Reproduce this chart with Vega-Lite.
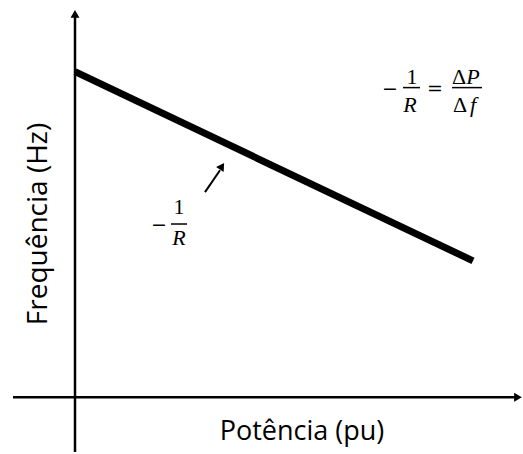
{
  "$schema": "https://vega.github.io/schema/vega-lite/v6.json",
  "width": 523,
  "height": 454,
  "padding": 0,
  "autosize": {"type": "fit", "contains": "padding"},
  "background": "white",
  "config": {"view": {"stroke": null}},
  "datasets": {
    "axes": [
      {"name": "h", "x": -62, "y": 0, "x2": 440, "y2": 0},
      {"name": "v", "x": 0, "y": -55, "x2": 0, "y2": 382}
    ],
    "heads": [
      {"name": "top", "x": 0, "y": 385, "dir": 0},
      {"name": "right", "x": 443, "y": 0, "dir": 90},
      {"name": "small", "x": 147, "y": 232, "dir": 33}
    ],
    "droop": [
      {"p": 0, "f": 327},
      {"p": 398, "f": 137}
    ],
    "pointer": [
      {"x": 130, "y": 206, "x2": 145, "y2": 228}
    ],
    "bars": [
      {"x": 328, "x2": 345, "y": 311},
      {"x": 377, "x2": 407, "y": 311},
      {"x": 96, "x2": 112, "y": 174}
    ],
    "upright": [
      {"t": "1", "x": 337, "y": 322},
      {"t": "Δ", "x": 384, "y": 322},
      {"t": "Δ", "x": 385, "y": 294},
      {"t": "1", "x": 104, "y": 191}
    ],
    "signs": [
      {"t": "−", "x": 315, "y": 311},
      {"t": "=", "x": 360, "y": 311},
      {"t": "−", "x": 84, "y": 174}
    ],
    "italic": [
      {"t": "R", "x": 335, "y": 294},
      {"t": "P", "x": 398, "y": 322},
      {"t": "f", "x": 398, "y": 294},
      {"t": "R", "x": 104, "y": 160}
    ],
    "titles": [
      {"t": "Potência (pu)", "x": 227, "y": -35, "a": 0, "s": 27},
      {"t": "Frequência (Hz)", "x": -36, "y": 174, "a": 270, "s": 28}
    ]
  },
  "layer": [
    {
      "data": {"name": "axes"},
      "mark": {"type": "rule", "color": "black", "strokeWidth": 2.5},
      "encoding": {
        "x": {"field": "x", "type": "quantitative", "scale": {"domain": [-75, 448], "nice": false, "zero": false}, "axis": null},
        "y": {"field": "y", "type": "quantitative", "scale": {"domain": [-55, 399], "nice": false, "zero": false}, "axis": null},
        "x2": {"field": "x2"},
        "y2": {"field": "y2"}
      }
    },
    {
      "data": {"name": "heads"},
      "mark": {"type": "point", "shape": "triangle-up", "filled": true, "color": "black", "size": 80, "opacity": 1},
      "encoding": {
        "x": {"field": "x", "type": "quantitative"},
        "y": {"field": "y", "type": "quantitative"},
        "angle": {"field": "dir", "type": "quantitative", "scale": null}
      }
    },
    {
      "data": {"name": "droop"},
      "mark": {"type": "line", "color": "black", "strokeWidth": 7, "strokeCap": "butt"},
      "encoding": {
        "x": {"field": "p", "type": "quantitative"},
        "y": {"field": "f", "type": "quantitative"}
      }
    },
    {
      "data": {"name": "pointer"},
      "mark": {"type": "rule", "color": "black", "strokeWidth": 2},
      "encoding": {
        "x": {"field": "x", "type": "quantitative"},
        "y": {"field": "y", "type": "quantitative"},
        "x2": {"field": "x2"},
        "y2": {"field": "y2"}
      }
    },
    {
      "data": {"name": "bars"},
      "mark": {"type": "rule", "color": "black", "strokeWidth": 1.5},
      "encoding": {
        "x": {"field": "x", "type": "quantitative"},
        "x2": {"field": "x2"},
        "y": {"field": "y", "type": "quantitative"}
      }
    },
    {
      "data": {"name": "upright"},
      "mark": {"type": "text", "font": "Liberation Serif", "fontSize": 22, "color": "black", "baseline": "middle", "align": "center"},
      "encoding": {
        "x": {"field": "x", "type": "quantitative"},
        "y": {"field": "y", "type": "quantitative"},
        "text": {"field": "t"}
      }
    },
    {
      "data": {"name": "signs"},
      "mark": {"type": "text", "font": "DejaVu Serif", "fontSize": 19, "color": "black", "baseline": "middle", "align": "center", "dy": 1},
      "encoding": {
        "x": {"field": "x", "type": "quantitative"},
        "y": {"field": "y", "type": "quantitative"},
        "text": {"field": "t"}
      }
    },
    {
      "data": {"name": "italic"},
      "mark": {"type": "text", "font": "Liberation Serif", "fontStyle": "italic", "fontSize": 22, "color": "black", "baseline": "middle", "align": "center"},
      "encoding": {
        "x": {"field": "x", "type": "quantitative"},
        "y": {"field": "y", "type": "quantitative"},
        "text": {"field": "t"}
      }
    },
    {
      "data": {"name": "titles"},
      "mark": {"type": "text", "font": "Open Sans", "color": "black", "baseline": "middle", "align": "center"},
      "encoding": {
        "x": {"field": "x", "type": "quantitative"},
        "y": {"field": "y", "type": "quantitative"},
        "text": {"field": "t"},
        "size": {"field": "s", "type": "quantitative", "scale": null},
        "angle": {"field": "a", "type": "quantitative", "scale": null}
      }
    }
  ]
}
